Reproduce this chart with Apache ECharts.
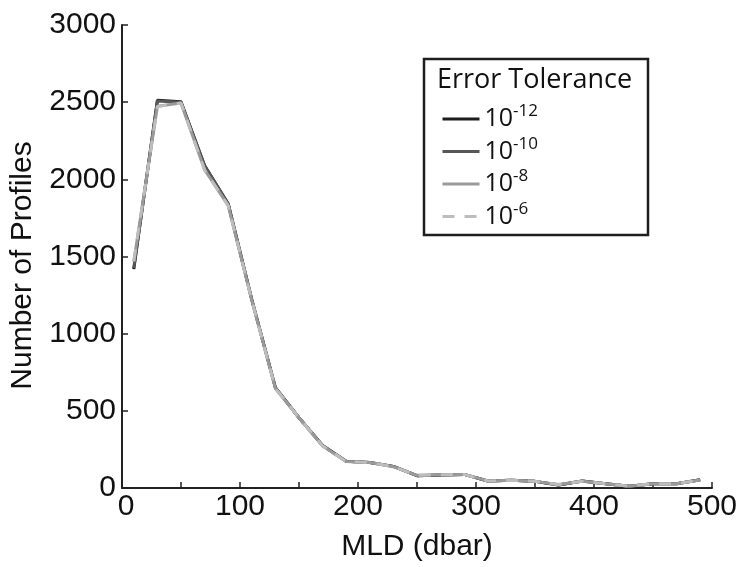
<!DOCTYPE html>
<html>
<head>
<meta charset="utf-8">
<script src="https://cdn.jsdelivr.net/npm/echarts@6/dist/echarts.min.js"></script>
<style>html,body{margin:0;padding:0;background:#fff;}#c{width:742px;height:567px;}</style>
</head>
<body>
<div id="c"></div>
<script>
const mld = [10, 30, 50, 70, 90, 110, 130, 150, 170, 190, 210, 230, 250, 270, 290, 310, 330, 350, 370, 390, 410, 430, 450, 470, 490];
const tol12 = [1418, 2513, 2502, 2090, 1842, 1220, 650, 455, 275, 174, 165, 140, 80, 85, 88, 45, 50, 43, 20, 45, 28, 11, 28, 28, 53];
const tol10 = [1425, 2508, 2500, 2086, 1840, 1220, 650, 455, 275, 174, 165, 140, 80, 85, 88, 45, 50, 43, 20, 45, 28, 11, 28, 28, 53];
const tol8 = [1466, 2474, 2495, 2062, 1830, 1215, 645, 455, 272, 172, 165, 138, 82, 86, 88, 46, 50, 43, 22, 44, 28, 12, 28, 28, 52];
const tol6 = [1470, 2472, 2494, 2060, 1830, 1215, 645, 455, 272, 172, 165, 138, 82, 86, 88, 46, 50, 43, 22, 44, 28, 12, 28, 28, 52];
const seriesNames = ['-12', '-10', '-8', '-6'];
const legendTitle = 'Error Tolerance';
const xTicks = [0, 100, 200, 300, 400, 500];
const yTicks = [0, 500, 1000, 1500, 2000, 2500, 3000];

const pair = arr => mld.map((x, i) => [x, arr[i]]);
const colors = ['#1c1c1c', '#575757', '#9a9a9a', '#bdbdbd'];
const datas = [tol12, tol10, tol8, tol6];

const chart = echarts.init(document.getElementById('c'), null, {renderer: 'canvas'});
const axisFont = 'Liberation Sans, Arial, Helvetica, sans-serif';
chart.setOption({
  animation: false,
  backgroundColor: '#fff',
  title: {
    text: legendTitle,
    left: 437, top: 67,
    padding: 0,
    textStyle: {fontFamily: 'Open Sans', fontSize: 27, fontWeight: 'normal', color: '#111'}
  },
  legend: {
    orient: 'vertical',
    left: 424, top: 59,
    padding: [44, 110, 6, 17],
    borderColor: '#1e1e1e', borderWidth: 2.5,
    itemWidth: 37, itemHeight: 14, itemGap: 4,
    data: seriesNames,
    itemStyle: {opacity: 0},
    lineStyle: {width: 3},
    formatter: n => '{b|10}{s|' + n + '}',
    textStyle: {
      fontFamily: 'Open Sans', color: '#111',
      rich: {
        b: {fontSize: 25, lineHeight: 32, fontFamily: 'Open Sans', color: '#111', verticalAlign: 'middle'},
        s: {fontSize: 17, lineHeight: 14, fontFamily: 'Open Sans', color: '#111', verticalAlign: 'top'}
      }
    }
  },
  grid: {left: 122, right: 30, top: 25, bottom: 76, containLabel: false},
  xAxis: {
    type: 'value', min: 0, max: 500, interval: 50,
    name: 'MLD (dbar)', nameLocation: 'middle', nameGap: 44,
    nameTextStyle: {fontFamily: axisFont, fontSize: 30, color: '#111'},
    axisLine: {onZero: false, lineStyle: {color: '#222', width: 2}},
    axisTick: {inside: true, length: 6, lineStyle: {color: '#222', width: 1.5}},
    splitLine: {show: false},
    axisLabel: {
      margin: 4, fontFamily: axisFont, fontSize: 30, color: '#111',
      formatter: v => xTicks.includes(v) ? (v === 0 ? '{z|0}' : String(v)) : '',
      rich: {z: {fontFamily: axisFont, fontSize: 30, color: '#111', padding: [0, 0, 0, 8]}}
    }
  },
  yAxis: {
    type: 'value', min: 0, max: 3000, interval: 500,
    name: 'Number of Profiles', nameLocation: 'middle', nameGap: 84,
    nameTextStyle: {fontFamily: axisFont, fontSize: 30, color: '#111', padding: [0, 18, 0, 0]},
    axisLine: {show: true, lineStyle: {color: '#222', width: 2}},
    axisTick: {show: true, inside: true, length: 6, lineStyle: {color: '#222', width: 1.5}},
    splitLine: {show: false},
    axisLabel: {
      margin: 6, fontFamily: axisFont, fontSize: 30, color: '#111',
      formatter: v => yTicks.includes(v) ? String(v) : ''
    }
  },
  series: seriesNames.map((n, i) => ({
    name: n, type: 'line', data: pair(datas[i]),
    symbol: 'none', showSymbol: false,
    color: colors[i],
    lineStyle: {color: colors[i], width: 3, type: i === 3 ? [12, 10] : 'solid'},
    z: 2 + i
  }))
});
</script>
</body>
</html>
